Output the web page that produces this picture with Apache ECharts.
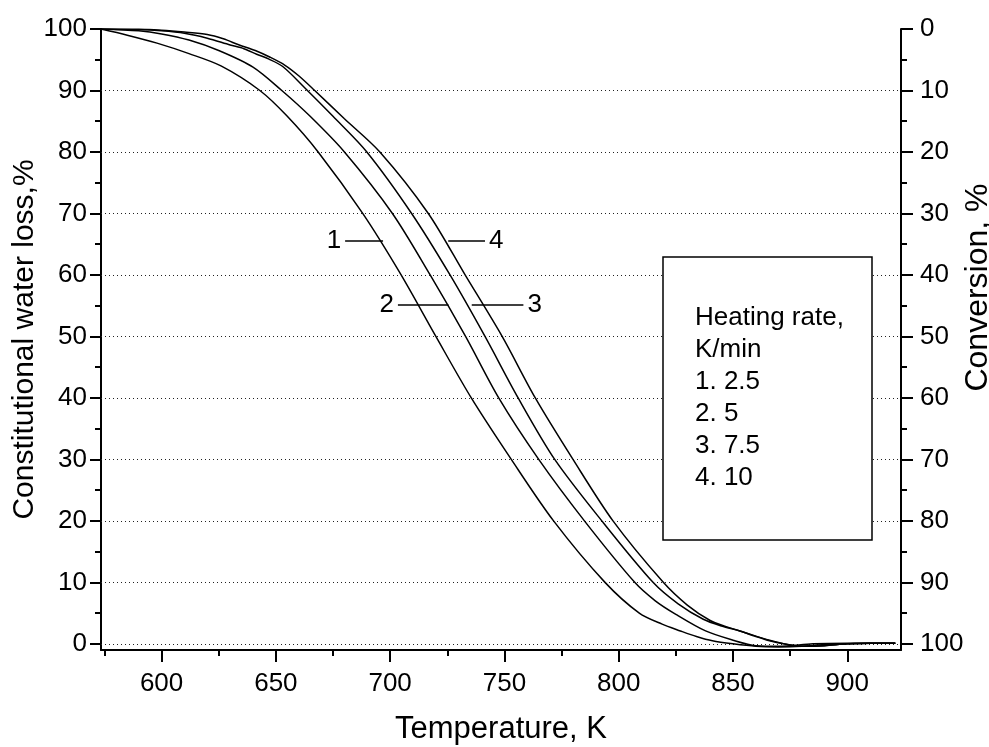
<!DOCTYPE html>
<html><head><meta charset="utf-8">
<script src="https://cdn.jsdelivr.net/npm/echarts@6/dist/echarts.min.js"></script>
<style>html,body{margin:0;padding:0;background:#fff}#c{width:989px;height:747px}</style>
</head><body><div id="c"></div>
<script>
// ---- axis ticks ----
const xMajorTicks = [600, 650, 700, 750, 800, 850, 900];
const xMinorTicks = [575, 625, 675, 725, 775, 825, 875];
const yMajorTicks = [0, 10, 20, 30, 40, 50, 60, 70, 80, 90, 100];
const yMinorTicks = [5, 15, 25, 35, 45, 55, 65, 75, 85, 95];
const gridValues = [0, 10, 20, 30, 40, 50, 60, 70, 80, 90];

// ---- curve data (Temperature K, water loss %) ----
const curve1T = [573.5, 585, 598, 612, 626, 643, 655, 668.5, 688, 704.8, 720, 735.5, 753, 771.5, 794, 809, 819, 827, 834, 841, 850, 860, 870, 880, 890, 900, 910, 921];
const curve1V = [100, 99.0, 97.7, 96.0, 94.0, 90, 85.8, 80, 70, 60, 50, 40, 30, 20, 10, 5, 3.2, 2.1, 1.2, 0.5, 0, -0.4, -0.5, -0.4, -0.1, 0, 0.1, 0.1];

const curve2T = [573.5, 590, 600, 612, 625, 640, 652.6, 665, 680, 701, 717.5, 733, 747.5, 765, 785, 807, 816, 825, 838, 850, 860, 870, 885, 900, 910, 921];
const curve2V = [100, 99.7, 99.2, 98.2, 96.5, 93.8, 90, 85.8, 80, 70, 60, 50, 40, 30, 20, 10, 7.0, 4.8, 2.1, 0.6, -0.3, -0.4, 0, 0.1, 0.1, 0.1];

const curve3T = [573.5, 590, 600, 610, 620, 630, 636, 641.6, 647, 653, 662.5, 675, 689.8, 709.4, 726.2, 741.5, 756, 772, 792.6, 815, 826, 837, 845, 853, 866, 880, 890, 900, 910, 921];
const curve3V = [100, 99.9, 99.7, 99.3, 98.5, 97.4, 96.8, 95.9, 95.1, 93.9, 90.5, 85.8, 80, 70, 60, 50, 40, 30, 20, 10, 6.5, 4.0, 2.9, 2.1, 0.6, -0.4, -0.3, 0, 0.1, 0.1];

const curve4T = [573.5, 590, 600, 610, 620, 627, 634, 641, 647.5, 654, 660, 667, 680, 695.5, 716.7, 732.8, 749, 763.5, 780, 797.5, 819.5, 830, 840, 847, 853, 860, 866, 872, 880, 890, 900, 910, 921];
const curve4V = [100, 99.95, 99.8, 99.5, 99.1, 98.4, 97.4, 96.5, 95.4, 94.1, 92.4, 90, 85.4, 80, 70, 60, 50, 40, 30, 20, 10, 6.3, 3.8, 2.8, 2.1, 1.2, 0.5, 0, -0.4, -0.3, 0, 0.1, 0.1];

// ---- curve labels with leader lines ----
const annoText = ['1', '2', '3', '4'];
const annoV = [65.5, 55.1, 55.1, 65.5];
const annoT1 = [680.3, 703.4, 735.7, 725.4];
const annoT2 = [696.9, 725.5, 758.3, 741.5];
const annoSide = ['start', 'start', 'end', 'end'];

// ---- legend text ----
const legendLines = ['Heating rate,', 'K/min', '1. 2.5', '2. 5', '3. 7.5', '4. 10'];

const X_MIN = 573.5, X_MAX = 923.5;
const FONT = "'Liberation Sans', Arial, sans-serif";
const BLACK = '#000';
const axisLineStyle = { color: BLACK, width: 2 };
const tickStyle = { color: BLACK, width: 2 };

function pairs(t, v) { return t.map((x, i) => [x, v[i]]); }

const curveSeries = [[curve1T, curve1V], [curve2T, curve2V], [curve3T, curve3V], [curve4T, curve4V]].map((c, i) => ({
  type: 'line',
  name: 'c' + (i + 1),
  xAxisIndex: 0, yAxisIndex: 0,
  data: pairs(c[0], c[1]),
  showSymbol: false,
  smooth: 0.3,
  lineStyle: { color: BLACK, width: 1.5 },
  itemStyle: { color: BLACK },
  z: 3
}));

curveSeries[0].markLine = {
  silent: true, symbol: ['none', 'none'], animation: false,
  label: { show: false },
  lineStyle: { type: [1, 3], color: '#222', width: 1 },
  data: gridValues.map(v => ({ yAxis: v })),
  z: 1
};

curveSeries[3].markLine = {
  silent: true, symbol: ['none', 'none'], animation: false,
  lineStyle: { type: 'solid', color: BLACK, width: 1.5 },
  data: annoText.map((t, i) => [
    { coord: [annoT1[i], annoV[i]], label: { show: true, position: annoSide[i], formatter: t, fontSize: 26, color: BLACK, fontFamily: FONT, distance: 4 } },
    { coord: [annoT2[i], annoV[i]] }
  ])
};

const option = {
  animation: false,
  backgroundColor: '#fff',
  textStyle: { fontFamily: FONT },
  grid: { left: 101, right: 88, top: 29, bottom: 97, outerBoundsMode: 'none', containLabel: false },
  xAxis: [
    {
      type: 'value', min: X_MIN, max: X_MAX, position: 'bottom',
      name: 'Temperature, K', nameLocation: 'middle', nameGap: 64, nameMoveOverlap: false,
      nameTextStyle: { fontSize: 31, color: BLACK, fontFamily: FONT },
      axisLine: { show: true, onZero: false, lineStyle: axisLineStyle },
      axisTick: { show: true, customValues: xMajorTicks, length: 12, lineStyle: tickStyle },
      axisLabel: { show: true, customValues: xMajorTicks, fontSize: 26, color: BLACK, margin: 21, fontFamily: FONT },
      splitLine: { show: false }
    },
    {
      type: 'value', min: X_MIN, max: X_MAX, position: 'bottom',
      axisLine: { show: false, onZero: false },
      axisTick: { show: true, customValues: xMinorTicks, length: 6, lineStyle: tickStyle },
      axisLabel: { show: false },
      splitLine: { show: false }
    }
  ],
  yAxis: [
    {
      type: 'value', min: -1, max: 100, position: 'left',
      name: 'Constitutional water loss,%', nameLocation: 'middle', nameGap: 61, nameMoveOverlap: false,
      nameTextStyle: { fontSize: 30, color: BLACK, fontFamily: FONT },
      axisLine: { show: true, onZero: false, lineStyle: axisLineStyle },
      axisTick: { show: true, customValues: yMajorTicks, length: 11, lineStyle: tickStyle },
      axisLabel: { show: true, customValues: yMajorTicks, fontSize: 26, color: BLACK, margin: 14, fontFamily: FONT },
      splitLine: { show: false }
    },
    {
      type: 'value', min: -1, max: 100, position: 'left',
      axisLine: { show: false, onZero: false },
      axisTick: { show: true, customValues: yMinorTicks, length: 6, lineStyle: tickStyle },
      axisLabel: { show: false },
      splitLine: { show: false }
    },
    {
      type: 'value', min: 0, max: 101, inverse: true, position: 'right',
      name: 'Conversion, %', nameLocation: 'middle', nameGap: 61, nameMoveOverlap: false,
      nameTextStyle: { fontSize: 32, color: BLACK, fontFamily: FONT, padding: [0, 0, 0, 104] },
      axisLine: { show: true, onZero: false, lineStyle: axisLineStyle },
      axisTick: { show: true, customValues: yMajorTicks, length: 12, lineStyle: tickStyle },
      axisLabel: { show: true, customValues: yMajorTicks, fontSize: 26, color: BLACK, margin: 19, fontFamily: FONT },
      splitLine: { show: false }
    },
    {
      type: 'value', min: 0, max: 101, inverse: true, position: 'right',
      axisLine: { show: false, onZero: false },
      axisTick: { show: true, customValues: yMinorTicks, length: 6, lineStyle: tickStyle },
      axisLabel: { show: false },
      splitLine: { show: false }
    }
  ],
  graphic: [
    { type: 'rect', z: 100, shape: { x: 663, y: 257, width: 209, height: 283 }, style: { fill: '#fff', stroke: BLACK, lineWidth: 1.5 } },
    { type: 'text', z: 101, x: 695, y: 302, style: { text: legendLines.join('\n'), fontSize: 26, fontFamily: FONT, lineHeight: 32, fill: BLACK } }
  ],
  series: curveSeries
};

const chart = echarts.init(document.getElementById('c'), null, { renderer: 'canvas' });
chart.setOption(option);
</script>
</body></html>
